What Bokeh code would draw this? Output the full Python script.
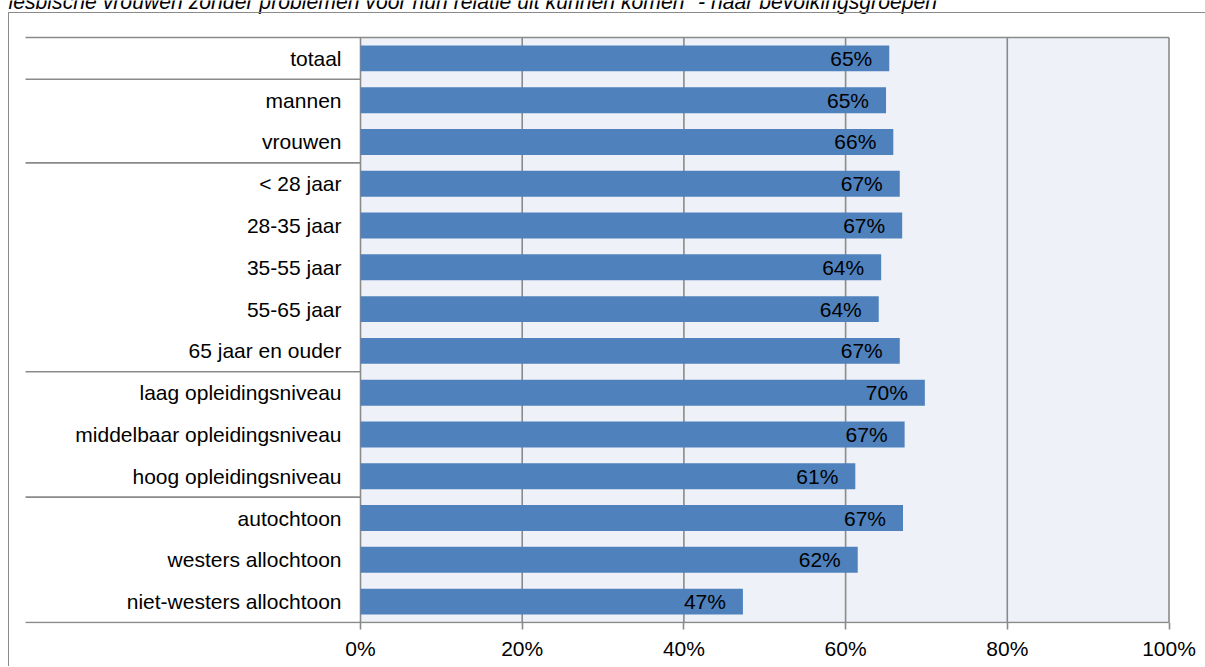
from bokeh.plotting import figure
from bokeh.models import Range1d, FixedTicker, ColumnDataSource, InlineStyleSheet
from bokeh.core.properties import value
from bokeh.embed import file_html
from bokeh.resources import INLINE

# ---------------- data ----------------
categories = ["totaal", "mannen", "vrouwen", "< 28 jaar", "28-35 jaar", "35-55 jaar",
              "55-65 jaar", "65 jaar en ouder", "laag opleidingsniveau",
              "middelbaar opleidingsniveau", "hoog opleidingsniveau", "autochtoon",
              "westers allochtoon", "niet-westers allochtoon"]
values = [65.4, 65.0, 65.9, 66.7, 67.0, 64.4, 64.1, 66.7, 69.8, 67.3, 61.2, 67.1, 61.5, 47.3]
value_labels = ["65%", "65%", "66%", "67%", "67%", "64%", "64%", "67%",
                "70%", "67%", "61%", "67%", "62%", "47%"]
group_sizes = [1, 2, 5, 3, 3]
x_ticks = [0, 20, 40, 60, 80, 100]
x_tick_labels = ["0%", "20%", "40%", "60%", "80%", "100%"]
title_text = 'lesbische vrouwen zonder problemen voor hun relatie uit kunnen komen" - naar bevolkingsgroepen'

# ---------------- layout (pixel geometry of the original) ----------------
W, H = 1205, 666
FR_L, FR_R, FR_T, FR_B = 0, 1170, 0, 623
SEP_L = 25            # left end of the category separator lines
ZERO_PX, PX_PCT = 360, 8.085
TOP_PX, BOT_PX = 37, 622
n = len(categories)
PX_CAT = (BOT_PX - TOP_PX) / n

def dx(px):
    return (px - ZERO_PX) / PX_PCT

def dy(py):
    return (py - TOP_PX) / PX_CAT

FONT = "Liberation Sans"
GRAY = "#8A8A8A"
LW = 1.6

p = figure(width=W, height=H,
           x_range=Range1d(dx(FR_L), dx(FR_R)),
           y_range=Range1d(dy(FR_B), dy(FR_T)),
           output_backend="svg", toolbar_location=None, y_axis_location=None,
           min_border_left=FR_L, min_border_right=W - FR_R,
           min_border_top=FR_T, min_border_bottom=H - FR_B,
           outline_line_color=None, background_fill_color="white",
           border_fill_color="white")
p.grid.visible = False

# outer chart border (decorative frame around the whole chart)
p.stylesheets = [InlineStyleSheet(css=(
    ":host { position: relative; }"
    ":host::after { content: ''; position: absolute; left: 8.2px; top: 11.7px;"
    " right: 0; bottom: 0; border-left: 1.6px solid #8A8A8A;"
    " border-top: 1.6px solid #8A8A8A; pointer-events: none; }"))]

src = ColumnDataSource(dict(y=[i + 0.5 for i in range(n)], v=values,
                            lab=value_labels, cat=categories))

# plot area background
p.quad(left=x_ticks[0], right=x_ticks[-1], top=0, bottom=n,
       fill_color="#EEF2F8", line_color=None)
# vertical gridlines
p.segment(x0=x_ticks, y0=[0] * len(x_ticks), x1=x_ticks, y1=[n] * len(x_ticks),
          line_color=GRAY, line_width=LW)

# bars
p.hbar(y="y", left=0, right="v", height=0.62, source=src,
       fill_color="#4F81BD", line_color=None)

# value labels
p.text(x="v", y="y", text="lab", source=src, x_offset=-17,
       text_align="right", text_baseline="middle",
       text_font=value(FONT), text_font_size="21px", text_color="black")

# category labels
p.text(x=0, y="y", text="cat", source=src, x_offset=-19,
       text_align="right", text_baseline="middle",
       text_font=value(FONT), text_font_size="21px", text_color="black")

# group separator lines (left area), top border and bottom line
bounds = []
acc = 0
for g in group_sizes[:-1]:
    acc += g
    bounds.append(acc)
x_left = dx(SEP_L)
p.segment(x0=[x_left] * len(bounds), y0=bounds, x1=[0] * len(bounds), y1=bounds,
          line_color=GRAY, line_width=LW)
p.segment(x0=[x_left, x_left], y0=[0, n], x1=[x_ticks[-1], x_ticks[-1]], y1=[0, n],
          line_color=GRAY, line_width=LW)

# title (partly cut off at the top in the original)
p.text(x=[dx(8)], y=[dy(1.0)], text=[title_text],
       text_align="left", text_baseline="alphabetic",
       text_font=value(FONT), text_font_size="21.2px", text_font_style="italic",
       text_color="black")

# x axis
ax = p.xaxis[0]
ax.ticker = FixedTicker(ticks=x_ticks)
ax.major_label_overrides = {t: l for t, l in zip(x_ticks, x_tick_labels)}
ax.minor_tick_line_color = None
ax.axis_line_color = None
ax.major_tick_in = 1
ax.major_tick_out = 6
ax.major_tick_line_color = GRAY
ax.major_tick_line_width = LW
ax.major_label_text_font = FONT
ax.major_label_text_font_size = "21px"
ax.major_label_text_color = "black"
ax.major_label_standoff = 7

open("out.html", "w").write(file_html(p, INLINE))
